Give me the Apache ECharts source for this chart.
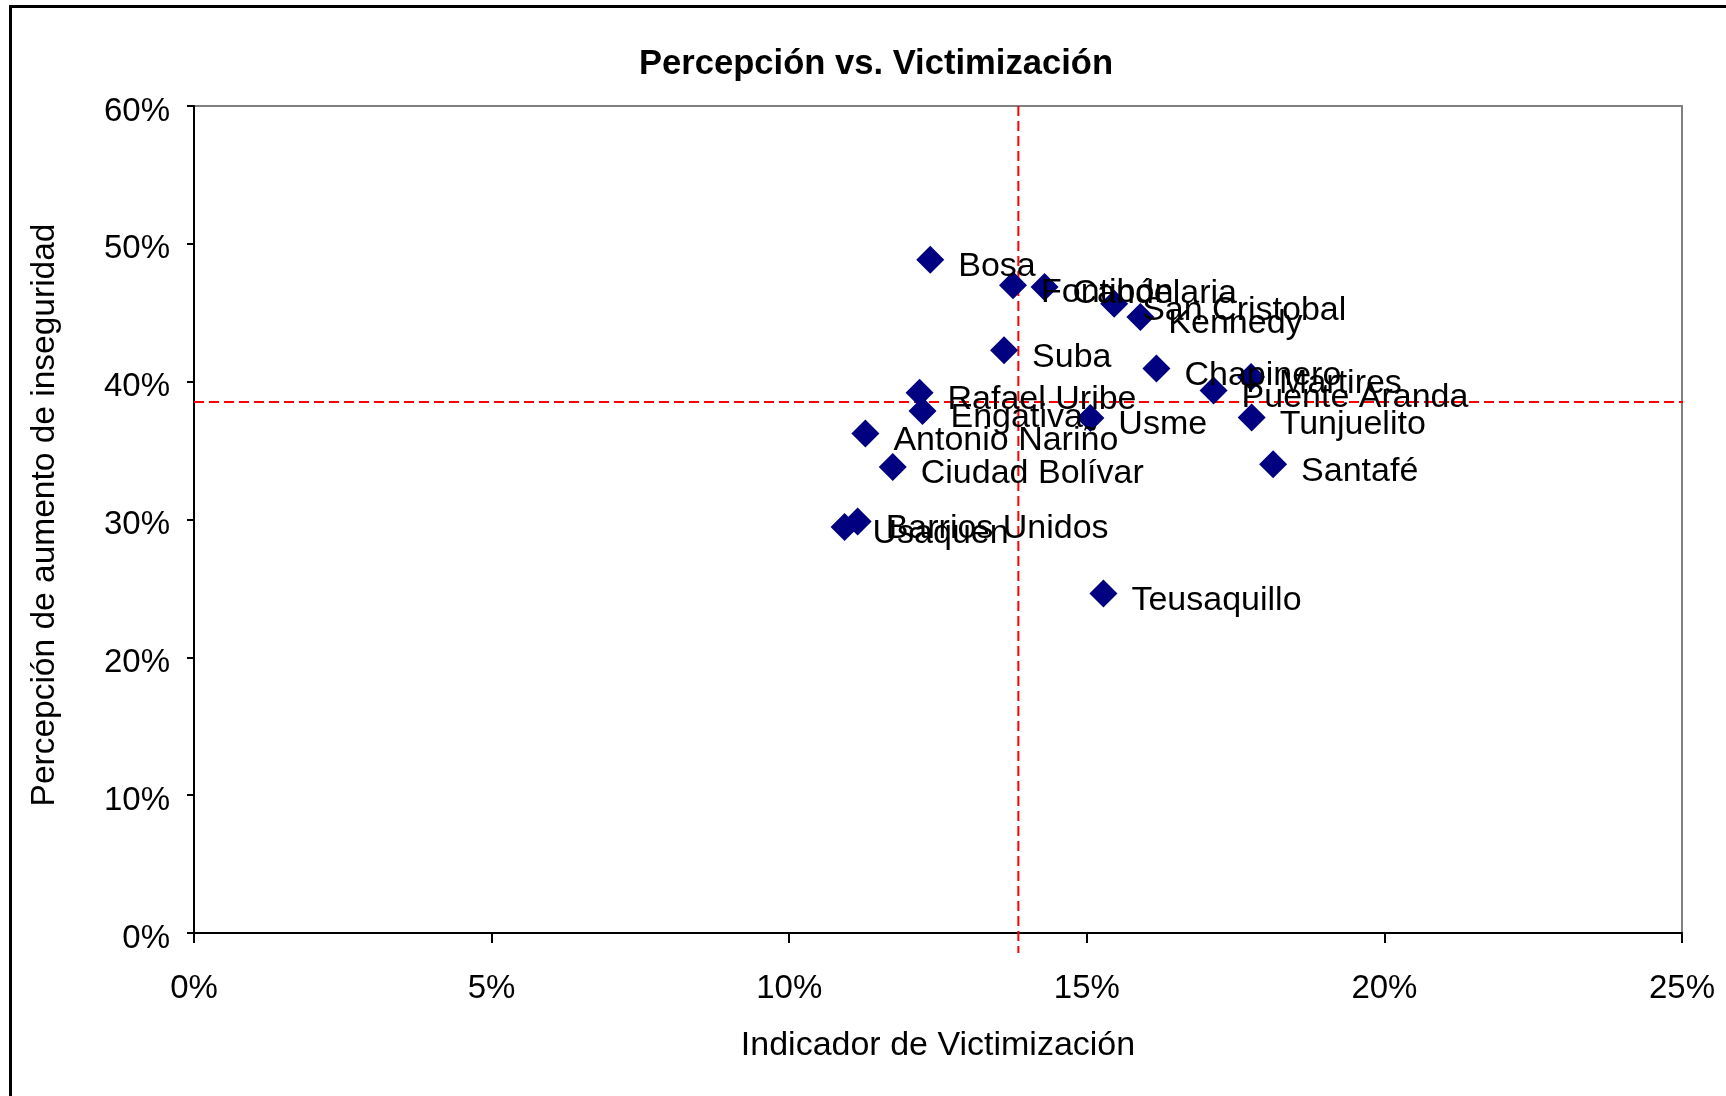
<!DOCTYPE html>
<html>
<head>
<meta charset="utf-8">
<script src="https://cdn.jsdelivr.net/npm/echarts@6/dist/echarts.min.js"></script>
<style>
  html, body { margin: 0; padding: 0; background: #fff; }
  #chart { width: 1726px; height: 1096px; }
</style>
</head>
<body>
<div id="chart"></div>
<script>
// Localidades de Bogotá: victimización (x) vs. percepción de aumento de inseguridad (y), en %
const localidades = ['Bosa', 'Fontibón', 'Candelaria', 'San Cristobal', 'Kennedy', 'Suba', 'Chapinero',
  'Martires', 'Puente Aranda', 'Rafael Uribe', 'Engativa', 'Usme', 'Tunjuelito', 'Antonio Nariño',
  'Ciudad Bolívar', 'Santafé', 'Barrios Unidos', 'Usaquen', 'Teusaquillo'];
const victimizacion = [12.37, 13.76, 14.29, 15.46, 15.90, 13.61, 16.17,
  17.76, 17.13, 12.19, 12.24, 15.06, 17.77, 11.28,
  11.74, 18.13, 11.15, 10.93, 15.28];
const percepcion = [48.85, 46.99, 46.87, 45.66, 44.69, 42.28, 40.95,
  40.34, 39.36, 39.20, 37.88, 37.37, 37.40, 36.24,
  33.81, 34.01, 29.86, 29.46, 24.63];

// Reference lines (city-wide levels)
const promedioVictimizacion = 13.85;
const promedioPercepcion = 38.53;
const refVerticalSpan = [60, -1.45];
const refHorizontalSpan = [0, 25.2];

const xTicks = { min: 0, max: 25, interval: 5 };
const yTicks = { min: 0, max: 60, interval: 10 };

const FONT = '"Liberation Sans", Arial, sans-serif';
const MARKER = 28;

const puntos = localidades.map((n, i) => ({ name: n, value: [victimizacion[i], percepcion[i]] }));

const chart = echarts.init(document.getElementById('chart'), null, { renderer: 'canvas' });

chart.setOption({
  backgroundColor: '#ffffff',
  animation: false,
  title: {
    text: 'Percepción vs. Victimización',
    left: 871,
    top: 42,
    textAlign: 'center',
    textStyle: { fontFamily: FONT, fontSize: 34.6, fontWeight: 'bold', color: '#000' }
  },
  grid: {
    left: 194, top: 106, right: 44, bottom: 163,
    show: true, borderColor: '#808080', borderWidth: 2, backgroundColor: 'transparent'
  },
  xAxis: {
    type: 'value',
    min: xTicks.min, max: xTicks.max, interval: xTicks.interval,
    name: 'Indicador de Victimización',
    nameLocation: 'middle',
    nameGap: 96,
    nameTextStyle: { fontFamily: FONT, fontSize: 34, color: '#000' },
    axisLine: { show: true, lineStyle: { color: '#000', width: 2 } },
    axisTick: { show: true, inside: false, length: 10, lineStyle: { color: '#000', width: 2 } },
    axisLabel: { formatter: '{value}%', fontFamily: FONT, fontSize: 33, color: '#000', margin: 39 },
    splitLine: { show: false }
  },
  yAxis: {
    type: 'value',
    min: yTicks.min, max: yTicks.max, interval: yTicks.interval,
    name: 'Percepción de aumento de inseguridad',
    nameLocation: 'middle',
    nameGap: 132,
    nameTextStyle: { fontFamily: FONT, fontSize: 33.5, color: '#000', padding: [0, 0, 0, 9] },
    axisLine: { show: true, lineStyle: { color: '#000', width: 2 } },
    axisTick: { show: true, inside: false, length: 7, lineStyle: { color: '#000', width: 2 } },
    axisLabel: { formatter: '{value}%', fontFamily: FONT, fontSize: 33, color: '#000', margin: 24,
      verticalAlign: 'top', lineHeight: 11 },
    splitLine: { show: false }
  },
  graphic: [
    {
      type: 'rect',
      shape: { x: 10.5, y: 6.5, width: 2000, height: 2000 },
      style: { fill: 'none', stroke: '#000', lineWidth: 3 },
      z: 100
    }
  ],
  series: [
    {
      type: 'line',
      data: [[promedioVictimizacion, refVerticalSpan[0]], [promedioVictimizacion, refVerticalSpan[1]]],
      symbol: 'none',
      clip: false,
      silent: true,
      lineStyle: { color: '#ff0000', width: 2, type: [10, 5] },
      z: 3
    },
    {
      type: 'line',
      data: [[refHorizontalSpan[0], promedioPercepcion], [refHorizontalSpan[1], promedioPercepcion]],
      symbol: 'none',
      clip: false,
      silent: true,
      lineStyle: { color: '#ff0000', width: 2, type: [10, 5] },
      z: 3
    },
    {
      type: 'scatter',
      data: puntos,
      symbol: 'diamond',
      symbolSize: MARKER,
      itemStyle: { color: '#000080', opacity: 1 },
      z: 4,
      label: {
        show: true,
        position: [MARKER + 14, MARKER / 2 + 7],
        align: 'left',
        verticalAlign: 'middle',
        formatter: p => p.name,
        fontFamily: FONT,
        fontSize: 34,
        color: '#000'
      },
      labelLayout: { hideOverlap: false }
    }
  ]
});
</script>
</body>
</html>
